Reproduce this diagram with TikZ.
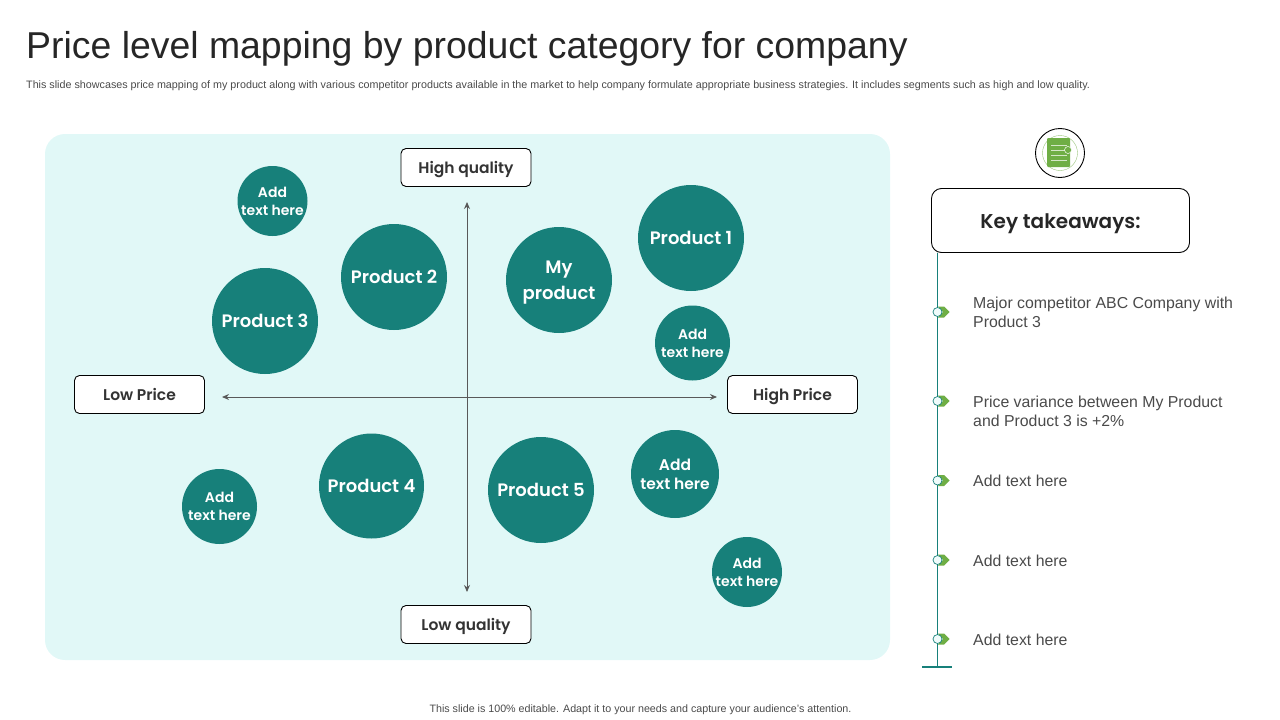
\documentclass[tikz,border=0pt]{standalone}
\usepackage{fontspec}
\setmainfont{Liberation Sans}
\newfontfamily\labelfont{Poppins SemiBold}
\usetikzlibrary{arrows.meta,positioning}
\definecolor{tealdark}{HTML}{17807A}
\definecolor{panelcyan}{HTML}{E1F8F7}
\definecolor{leafgreen}{HTML}{6FAE45}
\definecolor{greytext}{HTML}{4A4A4A}
\tikzset{
  bubble/.style={circle,fill=tealdark,text=white,inner sep=0pt,align=center,font=\labelfont},
  bigbubble/.style={bubble,minimum size=106pt,font=\labelfont\fontsize{18}{25.5}\selectfont},
  smallbubble/.style={bubble,minimum size=70pt,font=\labelfont\fontsize{14}{18}\selectfont},
  axisbox/.style={draw=black,fill=white,rounded corners=5pt,line width=0.9pt,minimum width=130pt,minimum height=38pt,inner sep=0pt,text=black!80,text height=12pt,text depth=0pt,font=\labelfont\fontsize{15.5}{18}\selectfont},
  axisline/.style={draw=black!65,line width=1pt,{Stealth[length=7pt,width=6pt]}-{Stealth[length=7pt,width=6pt]}},
  takeaway/.style={anchor=west,align=left,text=greytext,inner sep=0pt,font=\fontsize{15.85}{19}\selectfont},
  markdot/.style={circle,draw=tealdark,fill=panelcyan!50,line width=0.7pt,minimum size=9pt,inner sep=0pt},
  markhead/.style={fill=leafgreen}
}
\begin{document}
\begin{tikzpicture}[x=1pt,y=-1pt]
  \useasboundingbox (0,0) rectangle (1280,720);

  %Heading
  \node[anchor=west,inner sep=0pt,text=black!85,font=\fontsize{37.4}{44}\selectfont] (Title) at (26,49)
    {Price level mapping by product category for company};
  \node[anchor=west,inner sep=0pt,text=greytext,font=\fontsize{10.75}{12}\selectfont] (Subtitle) at (26,86)
    {This slide showcases price mapping of my product along with various competitor products available in the market to help company formulate appropriate business strategies. It includes segments such as high and low quality.};
  \node[inner sep=0pt,text=greytext,font=\fontsize{10.7}{12}\selectfont] (Footer) at (640.5,709.5)
    {This slide is 100\% editable. Adapt it to your needs and capture your audience's attention.};

  %Panel
  \node[fill=panelcyan,rounded corners=20pt,minimum width=845pt,minimum height=526pt,inner sep=0pt] (Panel) at (467.5,397) {};

  %Axis
  \coordinate (AxisTop) at (467,202);
  \coordinate (AxisBottom) at (467,592);
  \coordinate (AxisLeft) at (222,397);
  \coordinate (AxisRight) at (717,397);
  \draw[axisline] (AxisTop) -- (AxisBottom);
  \draw[axisline] (AxisLeft) -- (AxisRight);

  \node[axisbox] (HighQuality) at (466,167.5) {High quality};
  \node[axisbox] (LowQuality) at (466,624.5) {Low quality};
  \node[axisbox] (LowPrice) at (139.5,394.5) {Low Price};
  \node[axisbox] (HighPrice) at (792.5,394.5) {High Price};

  %Products
  \node[bigbubble] (ProductOne) at (691,238) {Product 1};
  \node[bigbubble] (ProductTwo) at (394,277) {Product 2};
  \node[bigbubble] (ProductThree) at (265,321) {Product 3};
  \node[bigbubble,minimum size=105pt] (ProductFour) at (371.5,486) {Product 4};
  \node[bigbubble] (ProductFive) at (541,490) {Product 5};
  \node[bigbubble,text depth=0pt] (MyProduct) at (559,280) {My\\product};

  \node[smallbubble] (AddOne) at (272.5,201) {Add\\text here};
  \node[smallbubble,minimum size=75pt] (AddTwo) at (692.5,343) {Add\\text here};
  \node[smallbubble,minimum size=75pt] (AddThree) at (219.5,506.5) {Add\\text here};
  \node[smallbubble,minimum size=88pt,font=\labelfont\fontsize{15.5}{19}\selectfont] (AddFour) at (675,474) {Add\\text here};
  \node[smallbubble] (AddFive) at (747,572) {Add\\text here};

  %Takeaways
  \node[draw=black,fill=white,rounded corners=10pt,line width=0.9pt,minimum width=258pt,minimum height=64pt,inner sep=0pt,text=black!85,text height=16pt,text depth=0pt,font=\labelfont\fontsize{20}{24}\selectfont] (KeyBox) at (1060.5,220.5) {Key takeaways:};
  \coordinate (LineTop) at (937.5,252.5);
  \coordinate (LineEnd) at (937.5,667);
  \coordinate (BarLeft) at (922,667);
  \coordinate (BarRight) at (952,667);
  \draw[tealdark,line width=1.2pt] (LineTop) -- (LineEnd);
  \draw[tealdark,line width=1.2pt] (BarLeft) -- (BarRight);

  \foreach \name/\ypos in {One/312,Two/401,Three/480.5,Four/560,Five/639}{
    \fill[markhead] (938,\ypos-5.5) -- (944,\ypos-5.5) -- (949.5,\ypos) -- (944,\ypos+5.5) -- (938,\ypos+5.5) -- (943,\ypos) -- cycle;
    \node[markdot] (Mark\name) at (937.5,\ypos) {};
  }

  \node[takeaway] (TextOne) at (973,312.5) {Major competitor ABC Company with\\Product 3};
  \node[takeaway] (TextTwo) at (973,411) {Price variance between My Product\\and Product 3 is +2\%};
  \node[takeaway] (TextThree) at (973,480.5) {Add text here};
  \node[takeaway] (TextFour) at (973,560.5) {Add text here};
  \node[takeaway] (TextFive) at (973,639.5) {Add text here};

  %Icon
  \node[circle,draw=black,fill=white,line width=0.9pt,minimum size=49pt,inner sep=0pt] (IconRing) at (1060,153) {};
  \node[circle,draw=leafgreen!70,line width=0.4pt,minimum size=35pt,inner sep=0pt] (IconInner) at (IconRing) {};
  \node[fill=leafgreen,rounded corners=1pt,minimum width=23pt,minimum height=29pt,inner sep=0pt] (IconBook) at (1058.5,152.5) {};
  \foreach \ypos in {145,150,155,160}{
    \draw[white!70!leafgreen,line width=0.8pt] (1051,\ypos) -- (1067,\ypos);
  }
  \node[circle,fill=leafgreen,draw=white,line width=0.5pt,minimum size=7pt,inner sep=0pt] (IconDot) at (1068,150) {};
\end{tikzpicture}
\end{document}
